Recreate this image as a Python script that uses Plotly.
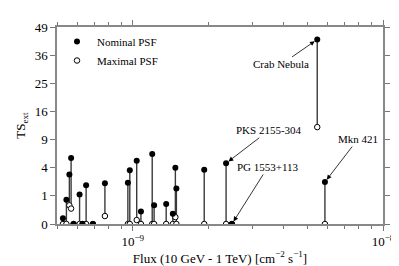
import numpy as np
import plotly.graph_objects as go

# Data: flux (10 GeV - 1 TeV) [cm^-2 s^-1], TS_ext with nominal and maximal PSF
flux = [5.26e-10, 5.43e-10, 5.58e-10, 5.67e-10, 5.80e-10, 6.13e-10, 6.30e-10, 6.51e-10,
        6.93e-10, 7.74e-10, 9.56e-10, 9.73e-10, 1.037e-9, 1.078e-9, 1.196e-9, 1.217e-9,
        1.36e-9, 1.446e-9, 1.48e-9, 1.494e-9, 1.93e-9, 2.36e-9, 2.49e-9, 5.46e-9, 5.86e-9]
ts_nominal = [0.04, 0.75, 3.1, 5.5, 0.0, 1.09, 0.0, 1.9,
              0.0, 2.1, 2.15, 3.65, 5.05, 0.2, 6.2, 0.44,
              0.51, 0.135, 4.0, 1.6, 3.7, 4.66, 0.0, 43.0, 2.22]
ts_maximal = [0.0, 0.0, 0.44, 0.30, 0.0, 0.0, 0.0, 0.0,
              0.0, 0.08, 0.0, 0.0, 0.02, 0.0, 0.0, 0.0,
              0.0, 0.0, 0.06, 0.0, 0.0, 0.0, 0.0, 11.85, 0.0]

y_tick_values = [0, 1, 4, 9, 16, 25, 36, 49]
x_major_ticks = [1e-9, 1e-8]
x_major_labels = ["10<sup>\u22129</sup>", "10<sup>\u22128</sup>"]
x_minor_ticks = [5e-10, 6e-10, 7e-10, 8e-10, 9e-10, 2e-9, 3e-9, 4e-9, 5e-9, 6e-9, 7e-9, 8e-9, 9e-9]

labels = [("Crab Nebula", 5.46e-9, 43.0), ("PKS 2155-304", 2.36e-9, 4.66),
          ("PG 1553+113", 2.49e-9, 0.0), ("Mkn 421", 5.86e-9, 2.22)]

sq = np.sqrt  # the y axis is a square-root scale

# vertical connectors
lx, ly = [], []
for f, a, b in zip(flux, ts_nominal, ts_maximal):
    lx += [f, f, None]
    ly += [sq(b), sq(a), None]

FONT = "Liberation Serif, Times New Roman, serif"

fig = go.Figure()
fig.add_trace(go.Scatter(x=lx, y=ly, mode="lines", line=dict(color="#3a3a3a", width=1.4),
                         showlegend=False, hoverinfo="skip"))
fig.add_trace(go.Scatter(x=flux, y=sq(np.array(ts_maximal)), mode="markers", name="Maximal PSF",
                         marker=dict(symbol="circle", size=5.5, color="white",
                                     line=dict(color="black", width=1))))
fig.add_trace(go.Scatter(x=flux, y=sq(np.array(ts_nominal)), mode="markers", name="Nominal PSF",
                         marker=dict(symbol="circle", size=6, color="black")))

# label offset (pixels) of the text centre from the marked point
ann_off = {
    "Crab Nebula": (-36, 25),
    "PKS 2155-304": (43, -33),
    "PG 1553+113": (36, -57),
    "Mkn 421": (33, -43),
}
for name, f, ts in labels:
    dx, dy = ann_off[name]
    fig.add_annotation(x=np.log10(f), y=sq(ts), xref="x", yref="y", ax=dx, ay=dy,
                       text=name, showarrow=True, arrowhead=2, arrowsize=1.2,
                       arrowwidth=0.8, arrowcolor="black", standoff=3,
                       font=dict(family=FONT, size=11, color="black"))

L, R, T, B = 48, 379, 13, 228
fig.update_layout(
    width=399, height=266,
    margin=dict(l=L, r=399 - R, t=T, b=266 - B),
    paper_bgcolor="white", plot_bgcolor="white",
    font=dict(family=FONT, size=13, color="black"),
    legend=dict(x=0.0, y=1.0, xanchor="left", yanchor="top", traceorder="reversed",
                font=dict(family=FONT, size=11), bgcolor="rgba(0,0,0,0)",
                itemwidth=30, tracegroupgap=0),
)
fig.update_xaxes(type="log", range=[np.log10(4.98e-10), -8],
                 tickvals=x_major_ticks, ticktext=x_major_labels, ticks="outside", ticklen=5,
                 tickcolor="#777", showline=True, linecolor="#888", linewidth=1.5, mirror="ticks",
                 showgrid=False, zeroline=False,
                 minor=dict(tickvals=x_minor_ticks, ticks="outside", ticklen=3, tickcolor="#777",
                            showgrid=False),
                 title=dict(text="Flux (10 GeV - 1 TeV) [cm<sup>\u22122</sup> s<sup>\u22121</sup>]",
                            standoff=4, font=dict(size=13)))
fig.update_yaxes(range=[0, 7], tickvals=[sq(v) for v in y_tick_values],
                 ticktext=[str(v) for v in y_tick_values], ticks="outside", ticklen=5,
                 tickcolor="#777", showline=True, linecolor="#888", linewidth=1.5, mirror="ticks",
                 showgrid=False, zeroline=False,
                 title=dict(text="TS<sub>ext</sub>", standoff=6, font=dict(size=13)))

fig.write_html("out.html")
